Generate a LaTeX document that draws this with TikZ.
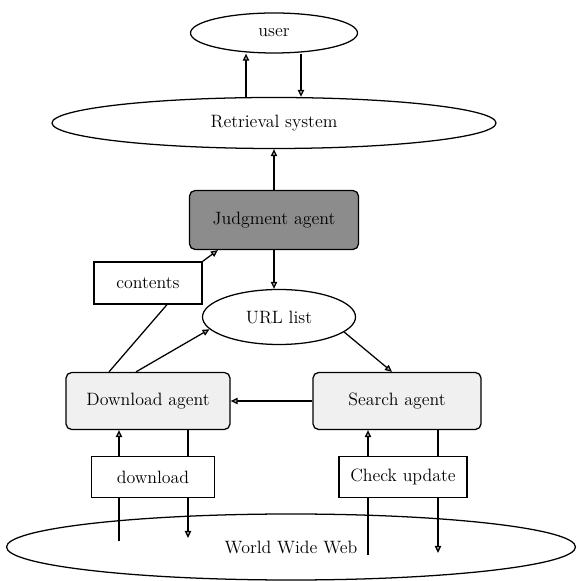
\documentclass[tikz,border=0pt]{standalone}
\usepackage{tikz}
\usetikzlibrary{positioning, arrows.meta, shapes.geometric}

\begin{document}
\begin{tikzpicture}[>={Triangle[length=5pt,width=4.5pt,fill=gray!60]},
        line width=0.9pt,
        ell/.style={ellipse, draw, inner sep=0, font=\fontsize{12.7}{15}\selectfont},
        box/.style={rectangle, draw, fill=white, inner sep=0, font=\fontsize{12.7}{15}\selectfont},
        agt/.style={box, rounded corners=4pt}]
        \useasboundingbox (0,0) rectangle (14.425,14.525);
        \node[ell, minimum width=4.175cm, minimum height=1cm]     (user) at (6.85,13.7)   {user};
        \node[ell, minimum width=11.1cm, minimum height=1.275cm]  (retr) at (6.85,11.45)  {Retrieval system};
        \node[agt, fill=black!45, minimum width=4.225cm, minimum height=1.475cm] (judg) at (6.85,9.025) {Judgment agent};
        \node[box, minimum width=2.7cm, minimum height=1.05cm]    (cont) at (3.7,7.45)    {contents};
        \node[ell, minimum width=3.825cm, minimum height=1.375cm] (url)  at (6.975,6.6)   {URL list};
        \node[agt, fill=gray!12, minimum width=4.1cm, minimum height=1.425cm] (dag) at (3.7,4.5)   {Download agent};
        \node[agt, fill=gray!12, minimum width=4.2cm, minimum height=1.425cm] (sag) at (9.925,4.5) {Search agent};
        \node[box, minimum width=3.075cm, minimum height=1.025cm] (dbox) at (3.825,2.6)   {download};
        \node[box, minimum width=3.2cm, minimum height=1.025cm]   (cbox) at (10.075,2.6)  {Check update};
        \node[ell, minimum width=14.225cm, minimum height=1.65cm] (www)  at (7.275,0.85)  {World Wide Web};
        \coordinate (w1) at (2.975,1.0);
        \coordinate (w2) at (4.7,1.075);
        \coordinate (w3) at (9.2,0.65);
        \coordinate (w4) at (10.95,0.7);
        \draw[->] ([xshift=-7mm]retr.north) -- ([xshift=-7mm]user.south);
        \draw[->] ([xshift=6.75mm]user.south) -- ([xshift=6.75mm]retr.north);
        \draw[->] (judg) -- (retr);
        \draw[->] (judg) -- (judg.south |- url.north);
        \draw[->] (cont.north east) -- ([xshift=7.25mm]judg.south west);
        \draw ([xshift=-9.75mm]dag.north) -- ([xshift=4.75mm]cont.south);
        \draw[->] ([xshift=-3mm]dag.north) -- (url.190);
        \draw[->] (url.-13) -- ([xshift=-1.25mm]sag.north);
        \draw[->] (sag) -- (dag);
        \foreach \c/\b/\a in {w1/dbox/dag, w3/cbox/sag}{\draw (\c) -- (\c |- \b.south); \draw[->] (\c |- \b.north) -- (\c |- \a.south);}
        \foreach \c/\b/\a in {w2/dbox/dag, w4/cbox/sag}{\draw (\c |- \a.south) -- (\c |- \b.north); \draw[->] (\c |- \b.south) -- (\c);}
      \end{tikzpicture}
\end{document}
